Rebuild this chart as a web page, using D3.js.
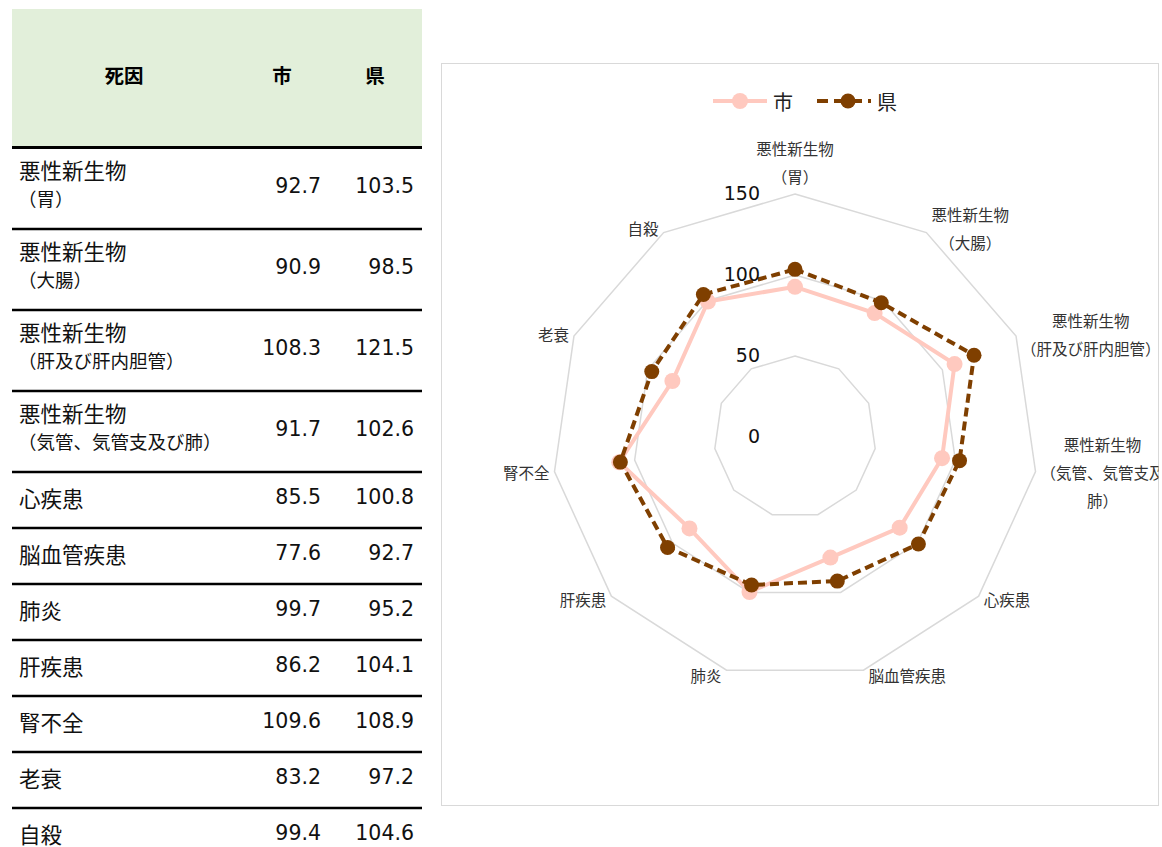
<!DOCTYPE html>
<html>
<head>
<meta charset="utf-8">
<script src="https://cdn.jsdelivr.net/npm/d3@7"></script>
<style>
  body { margin: 0; background: #fff; }
  text { font-family: "Noto Sans CJK JP", "Noto Sans", sans-serif; }
  .num { font-family: "DejaVu Sans", Verdana, sans-serif; }
</style>
</head>
<body>
<svg id="chart" width="1162" height="847"></svg>
<script>
// data
var causeMain = ["悪性新生物", "悪性新生物", "悪性新生物", "悪性新生物", "心疾患", "脳血管疾患", "肺炎", "肝疾患", "腎不全", "老衰", "自殺"];
var causeSub = ["（胃）", "（大腸）", "（肝及び肝内胆管）", "（気管、気管支及び肺）", "", "", "", "", "", "", ""];
var radarLabels = [
	["悪性新生物", "（胃）"],
	["悪性新生物", "（大腸）"],
	["悪性新生物", "（肝及び肝内胆管）"],
	["悪性新生物", "（気管、気管支及", "肺）"],
	["心疾患"], ["脳血管疾患"], ["肺炎"], ["肝疾患"], ["腎不全"], ["老衰"], ["自殺"]
];
var cityValues = [92.7, 90.9, 108.3, 91.7, 85.5, 77.6, 99.7, 86.2, 109.6, 83.2, 99.4];
var prefValues = [103.5, 98.5, 121.5, 102.6, 100.8, 92.7, 95.2, 104.1, 108.9, 97.2, 104.6];
var seriesNames = ["市", "県"];
var headers = ["死因", "市", "県"];
var axisTicks = [0, 50, 100, 150];

var svg = d3.select("#chart");

// ---- table ----
var tLeft = 12, tRight = 422;
svg.append("rect")
	.attr("x", tLeft).attr("y", 9)
	.attr("width", tRight - tLeft).attr("height", 137)
	.attr("fill", "#E2EFDA");

var headerX = [124, 282, 375];
svg.selectAll(".hdr")
	.data(headers)
	.enter().append("text")
	.attr("class", "hdr")
	.attr("x", (d, i) => headerX[i])
	.attr("y", 74)
	.attr("dominant-baseline", "central")
	.attr("text-anchor", "middle")
	.style("font-size", "19.5px")
	.style("font-weight", "bold")
	.text(d => d);

svg.append("line")
	.attr("x1", tLeft).attr("x2", tRight)
	.attr("y1", 147.5).attr("y2", 147.5)
	.attr("stroke", "#000").attr("stroke-width", 3);

var rowTop = 149;
causeMain.forEach(function (name, i) {
	var h = causeSub[i] ? 81 : 56;
	var g = svg.append("g").attr("transform", "translate(0," + rowTop + ")");
	if (causeSub[i]) {
		g.append("text").attr("x", 19).attr("y", 20)
			.attr("dominant-baseline", "central")
			.style("font-size", "21.5px").attr("fill", "#111").text(name);
		g.append("text").attr("x", 18).attr("y", 49)
			.attr("dominant-baseline", "central")
			.style("font-size", "18.5px").attr("fill", "#111").text(causeSub[i]);
	} else {
		g.append("text").attr("x", 19).attr("y", h / 2 - 4)
			.attr("dominant-baseline", "central")
			.style("font-size", "21.5px").attr("fill", "#111").text(name);
	}
	var ny = causeSub[i] ? 37 : h / 2 - 4;
	g.append("text").attr("class", "num")
		.attr("x", 321).attr("y", ny)
		.attr("dominant-baseline", "central")
		.attr("text-anchor", "end")
		.style("font-size", "20.5px").attr("fill", "#111")
		.text(cityValues[i].toFixed(1));
	g.append("text").attr("class", "num")
		.attr("x", 414).attr("y", ny)
		.attr("dominant-baseline", "central")
		.attr("text-anchor", "end")
		.style("font-size", "20.5px").attr("fill", "#111")
		.text(prefValues[i].toFixed(1));
	rowTop += h;
	if (i < causeMain.length - 1) {
		g.append("line")
			.attr("x1", tLeft).attr("x2", tRight)
			.attr("y1", h - 1).attr("y2", h - 1)
			.attr("stroke", "#000").attr("stroke-width", 2.5);
	}
});

// ---- radar chart ----
var frame = {x: 441.5, y: 63.5, w: 717, h: 742};
svg.append("defs").append("clipPath").attr("id", "frameClip")
	.append("rect")
	.attr("x", frame.x).attr("y", frame.y)
	.attr("width", frame.w).attr("height", frame.h);

svg.append("rect")
	.attr("x", frame.x).attr("y", frame.y)
	.attr("width", frame.w).attr("height", frame.h)
	.attr("fill", "#fff").attr("stroke", "#D9D9D9").attr("stroke-width", 1);

var chartG = svg.append("g").attr("clip-path", "url(#frameClip)");

var cx = 795, cy = 437;
var n = causeMain.length;
var r = d3.scaleLinear().domain([0, 150]).range([0, 243]);
var angle = d3.scaleLinear().domain([0, n]).range([0, 2 * Math.PI]);

function px(i, v) { return cx + r(v) * Math.sin(angle(i)); }
function py(i, v) { return cy - r(v) * Math.cos(angle(i)); }

var ringLine = d3.lineRadial()
	.angle((d, i) => angle(i))
	.radius(d => r(d))
	.curve(d3.curveLinearClosed);

var plot = chartG.append("g").attr("transform", "translate(" + cx + "," + cy + ")");

plot.selectAll(".ring")
	.data(axisTicks.filter(t => t > 0))
	.enter().append("path")
	.attr("class", "ring")
	.attr("d", t => ringLine(d3.range(n).map(() => t)))
	.attr("fill", "none")
	.attr("stroke", "#D9D9D9")
	.attr("stroke-width", 1.5);

chartG.selectAll(".tick")
	.data(axisTicks)
	.enter().append("text")
	.attr("class", "num")
	.attr("x", cx - 35)
	.attr("y", t => cy - r(t) - 1)
	.attr("dominant-baseline", "central")
	.attr("text-anchor", "end")
	.style("font-size", "19px")
	.attr("fill", "#111")
	.text(t => t);

// category labels
var lineH = 28;
radarLabels.forEach(function (lines, i) {
	var a = angle(i);
	var s = Math.sin(a), c = Math.cos(a);
	var vx = px(i, 150), vy = py(i, 150);
	var lg = chartG.append("g");
	var texts = lg.selectAll("text").data(lines).enter().append("text")
		.attr("dominant-baseline", "central")
		.attr("text-anchor", "middle")
		.style("font-size", "15.5px")
		.attr("fill", "#333")
		.text(d => d);
	var w = d3.max(texts.nodes(), nd => nd.getComputedTextLength());
	var blockH = lines.length * lineH;
	var centerX, centerY;
	if (Math.abs(s) < 0.1) {
		centerX = vx;
		centerY = vy - 8 - blockH / 2 + 4;
	} else {
		centerX = s > 0 ? vx + 5 + w / 2 : vx - 5 - w / 2;
		centerY = vy - 5 * c;
	}
	texts.attr("x", centerX)
		.attr("y", (d, k) => centerY + (k - (lines.length - 1) / 2) * lineH);
});

// series
var series = [
	{name: seriesNames[0], values: cityValues, color: "#FFC9BF", dash: null, rad: 8},
	{name: seriesNames[1], values: prefValues, color: "#7F3F00", dash: "9,5", rad: 7.5}
];

var seriesLine = d3.lineRadial()
	.angle((d, i) => angle(i))
	.radius(d => r(d))
	.curve(d3.curveLinearClosed);

series.forEach(function (s) {
	plot.append("path")
		.attr("d", seriesLine(s.values))
		.attr("fill", "none")
		.attr("stroke", s.color)
		.attr("stroke-width", 4)
		.style("stroke-dasharray", s.dash);
	plot.selectAll(null)
		.data(s.values)
		.enter().append("circle")
		.attr("cx", (d, i) => r(d) * Math.sin(angle(i)))
		.attr("cy", (d, i) => -r(d) * Math.cos(angle(i)))
		.attr("r", s.rad)
		.attr("fill", s.color);
});

// legend
var legend = chartG.append("g").attr("transform", "translate(713,101)");
var legX = [0, 104];
series.forEach(function (s, i) {
	var lg = legend.append("g").attr("transform", "translate(" + legX[i] + ",0)");
	lg.append("line")
		.attr("x1", 0).attr("x2", 54)
		.attr("y1", 0).attr("y2", 0)
		.attr("stroke", s.color)
		.attr("stroke-width", 4)
		.style("stroke-dasharray", s.dash ? "11,6" : null);
	lg.append("circle")
		.attr("cx", 27 + (i ? 4 : 0)).attr("cy", 0)
		.attr("r", s.rad)
		.attr("fill", s.color);
	lg.append("text")
		.attr("x", 60).attr("y", 0)
		.attr("dominant-baseline", "central")
		.style("font-size", "20px")
		.attr("fill", "#222")
		.text(s.name);
});
</script>
</body>
</html>
